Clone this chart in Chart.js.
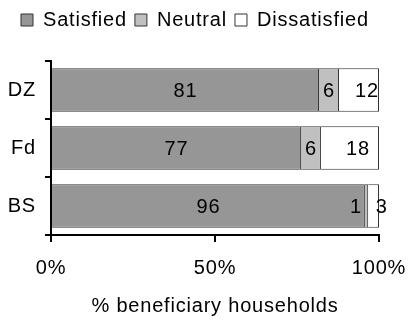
<!DOCTYPE html>
<html>
<head>
<meta charset="utf-8">
<script src="https://cdn.jsdelivr.net/npm/chart.js@4"></script>
<style>
  html, body { margin: 0; padding: 0; background: #fff; }
  #wrap { width: 408px; height: 320px; }
</style>
</head>
<body>
<div id="wrap"><canvas id="satisfaction-chart"></canvas></div>
<script>
// categories (top to bottom)
const programmes = ['DZ', 'Fd', 'BS'];

// share of households
const satisfied = [81.7, 76.2, 95.7];
const neutral = [6.1, 6.1, 1.0];
const dissatisfied = [12.2, 17.7, 3.3];

// printed numbers on the bars
const satisfiedLabels = ['81', '77', '96'];
const neutralLabels = ['6', '6', '1'];
const dissatisfiedLabels = ['12', '18', '3'];

const xTicks = [0, 50, 100];

Chart.defaults.font.family = '"Liberation Sans", Arial, sans-serif';
Chart.defaults.font.size = 20;
Chart.defaults.color = '#000';

// the original text is a bit spread out
function spread(chart) {
    chart.ctx.letterSpacing = '0.8px';
}

const spacing = {
    id: 'spacing',
    beforeInit(chart) {
        // more room under the legend
        const fit = chart.legend.fit;
        chart.legend.fit = function () {
            fit.call(this);
            this.height += 21;
        };
    },
    afterLayout(chart) {
        // legend starts a little in from the edge
        chart.legend.left += 13;
        chart.legend.right += 13;
    },
    beforeUpdate: spread,
    beforeLayout: spread,
    beforeDraw: spread
};

// writes the numbers in the middle of each piece of bar
const barNumbers = {
    id: 'barNumbers',
    afterDatasetsDraw(chart) {
        const ctx = chart.ctx;
        ctx.save();
        ctx.font = '20px "Liberation Sans", Arial, sans-serif';
        ctx.letterSpacing = '0.8px';
        ctx.fillStyle = '#000';
        ctx.textBaseline = 'middle';
        ctx.textAlign = 'center';
        chart.data.datasets.forEach((ds, i) => {
            const meta = chart.getDatasetMeta(i);
            meta.data.forEach((bar, j) => {
                const text = ds.numbers[j];
                const w = Math.abs(bar.x - bar.base);
                let x = (bar.x + bar.base) / 2;
                const tw = ctx.measureText(text).width;
                // tiny slices: push the numbers apart
                if (i === 1 && w < tw) {
                    x = bar.base - tw / 2 - 3;
                }
                if (i === 2) {
                    const prev = chart.getDatasetMeta(1).data[j];
                    if (Math.abs(prev.x - prev.base) < tw) x += 8;
                }
                ctx.fillText(text, x, bar.y + 1);
            });
        });
        ctx.restore();
    }
};

new Chart(document.querySelector('#satisfaction-chart').getContext('2d'), {
    type: 'bar',
    data: {
        labels: programmes,
        datasets: [
            {
                label: 'Satisfied',
                data: satisfied,
                numbers: satisfiedLabels,
                backgroundColor: '#969696',
                borderColor: '#333',
                borderWidth: 1
            },
            {
                label: 'Neutral',
                data: neutral,
                numbers: neutralLabels,
                backgroundColor: '#c0c0c0',
                borderColor: '#333',
                borderWidth: 1
            },
            {
                label: 'Dissatisfied',
                data: dissatisfied,
                numbers: dissatisfiedLabels,
                backgroundColor: '#ffffff',
                borderColor: '#333',
                borderWidth: 1
            }
        ]
    },
    options: {
        indexAxis: 'y',
        responsive: true,
        maintainAspectRatio: false,
        animation: false,
        datasets: {
            bar: { barPercentage: 0.75, categoryPercentage: 1 }
        },
        layout: { padding: { left: 0, right: 0, top: 2, bottom: 2 } },
        plugins: {
            legend: {
                position: 'top',
                align: 'start',
                labels: {
                    boxWidth: 12,
                    boxHeight: 12,
                    padding: 8,
                    font: { size: 20 }
                }
            },
            tooltip: { enabled: false }
        },
        scales: {
            x: {
                stacked: true,
                min: 0,
                max: 100,
                afterBuildTicks: axis => {
                    axis.ticks = xTicks.map(v => ({ value: v }));
                },
                afterFit: scale => { scale.paddingRight = 29; },
                ticks: {
                    callback: v => v + '%',
                    padding: 14
                },
                grid: {
                    drawOnChartArea: false,
                    drawTicks: true,
                    tickLength: 7,
                    color: '#000',
                    lineWidth: 2
                },
                border: { color: '#000', width: 2 },
                title: {
                    display: true,
                    text: '% beneficiary households',
                    font: { size: 20 },
                    padding: { top: 0, bottom: 0 }
                }
            },
            y: {
                stacked: true,
                afterFit: scale => { scale.width = 51; },
                ticks: { padding: 9 },
                grid: {
                    offset: true,
                    drawOnChartArea: false,
                    drawTicks: true,
                    tickLength: 6,
                    color: '#000',
                    lineWidth: 2
                },
                border: { color: '#000', width: 2 }
            }
        }
    },
    plugins: [spacing, barNumbers]
});
</script>
</body>
</html>
